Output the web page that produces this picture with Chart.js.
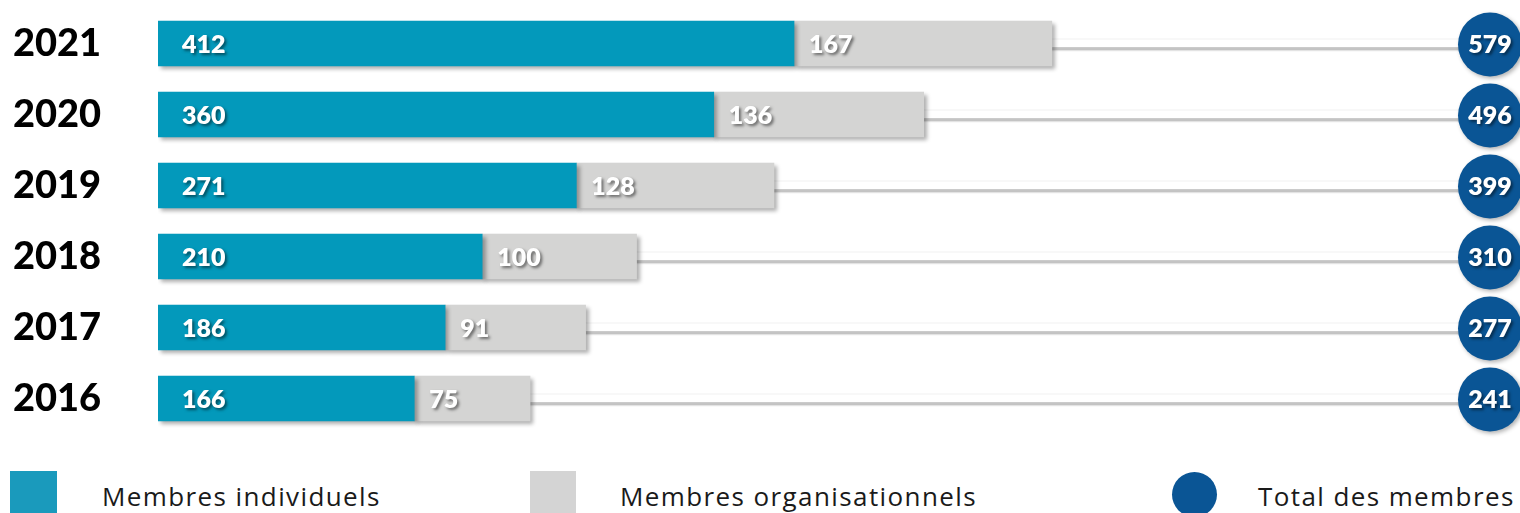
<!DOCTYPE html>
<html>
<head>
<meta charset="utf-8">
<script src="https://cdn.jsdelivr.net/npm/chart.js@4/dist/chart.umd.min.js"></script>
<style>
  html,body{margin:0;padding:0;background:#fff;overflow:hidden;}
  #wrap{position:absolute;left:0;top:0;width:1520px;height:442px;}
  .sw{position:absolute;top:471px;width:47px;height:50px;}
  .lt{position:absolute;top:478px;font-family:"Open Sans",sans-serif;font-weight:400;font-size:26px;letter-spacing:1.4px;color:#1a1a1a;line-height:36px;white-space:nowrap;}
</style>
</head>
<body>
<div id="wrap"><canvas id="c"></canvas></div>
<div class="sw" style="left:10px;background:#1A9ABC;"></div>
<div class="lt" style="left:102px;">Membres individuels</div>
<div class="sw" style="left:530px;width:46px;background:#D4D4D4;"></div>
<div class="lt" style="left:620px;">Membres organisationnels</div>
<div class="sw" style="left:1172px;width:45px;height:45px;top:472px;border-radius:50%;background:#0A5595;"></div>
<div class="lt" style="left:1258px;">Total des membres</div>
<script>
const years = ['2021','2020','2019','2018','2017','2016'];
const individuels = [412,360,271,210,186,166];
const organisationnels = [167,136,128,100,91,75];
const totals = [579,496,399,310,277,241];

const TEAL = '#0399BB';
const GREY = '#D4D4D3';
const BLUE = '#0A5595';

const decor = {
  id: 'decor',
  beforeDatasetsDraw(chart) {
    const ctx = chart.ctx, xs = chart.scales.x, ys = chart.scales.y;
    const cx = chart.width - 30;
    ctx.save();
    years.forEach((y, i) => {
      const yc = ys.getPixelForValue(i);
      const x0 = xs.getPixelForValue(totals[i]) - 5;
      ctx.save();
      ctx.fillStyle = '#f1f1f1';
      ctx.fillRect(x0, yc - 5, cx - x0, 1.5);
      ctx.shadowColor = 'rgba(0,0,0,0.35)';
      ctx.shadowBlur = 2;
      ctx.shadowOffsetY = 2;
      ctx.fillStyle = '#ffffff';
      ctx.fillRect(x0, yc - 4, cx - x0, 8);
      ctx.restore();
      ctx.fillStyle = '#c4c4c4';
      ctx.fillRect(x0, yc + 4, cx - x0, 1.5);
    });
    ctx.restore();
  },
  beforeDatasetDraw(chart) {
    const ctx = chart.ctx;
    ctx.save();
    ctx.shadowColor = 'rgba(0,0,0,0.32)';
    ctx.shadowBlur = 4;
    ctx.shadowOffsetX = 3;
    ctx.shadowOffsetY = 3;
  },
  afterDatasetDraw(chart) {
    chart.ctx.restore();
  },
  afterDatasetsDraw(chart) {
    const ctx = chart.ctx, xs = chart.scales.x, ys = chart.scales.y;
    const cx = chart.width - 30;
    ctx.save();
    ctx.font = '800 25px Lato, "Open Sans", sans-serif';
    ctx.textBaseline = 'middle';
    years.forEach((y, i) => {
      const yc = ys.getPixelForValue(i);
      ctx.save();
      ctx.shadowColor = 'rgba(0,0,0,0.3)';
      ctx.shadowBlur = 4;
      ctx.shadowOffsetX = 2;
      ctx.shadowOffsetY = 2;
      ctx.fillStyle = BLUE;
      ctx.beginPath();
      ctx.arc(cx, yc + 1, 32, 0, Math.PI * 2);
      ctx.fill();
      ctx.restore();
      ctx.save();
      ctx.shadowColor = 'rgba(0,0,0,0.5)';
      ctx.shadowBlur = 3;
      ctx.shadowOffsetX = 2;
      ctx.shadowOffsetY = 2;
      ctx.fillStyle = '#ffffff';
      ctx.textAlign = 'left';
      ctx.fillText(String(individuels[i]), xs.getPixelForValue(0) + 24, yc + 1);
      ctx.fillText(String(organisationnels[i]), xs.getPixelForValue(individuels[i]) + 15, yc + 1);
      ctx.textAlign = 'center';
      ctx.fillText(String(totals[i]), cx, yc + 1);
      ctx.restore();
    });
    ctx.restore();
  }
};

new Chart(document.getElementById('c'), {
  type: 'bar',
  data: {
    labels: years,
    datasets: [
      { label: 'Membres individuels', data: individuels, backgroundColor: TEAL, barThickness: 45, borderWidth: 0 },
      { label: 'Membres organisationnels', data: organisationnels, backgroundColor: GREY, barThickness: 45, borderWidth: 0 }
    ]
  },
  options: {
    indexAxis: 'y',
    responsive: true,
    maintainAspectRatio: false,
    animation: false,
    layout: { padding: { left: 13, right: 127, top: 8, bottom: 8 } },
    plugins: { legend: { display: false }, tooltip: { enabled: false } },
    scales: {
      x: { stacked: true, min: 0, max: 800, display: false },
      y: {
        stacked: true,
        grid: { display: false },
        border: { display: false },
        afterFit(s) { s.width = 145; },
        ticks: {
          crossAlign: 'far',
          padding: 0,
          color: '#000',
          font: { family: 'Lato', weight: '900', size: 38, lineHeight: 0.4 }
        }
      }
    }
  },
  plugins: [decor]
});
</script>
</body>
</html>
